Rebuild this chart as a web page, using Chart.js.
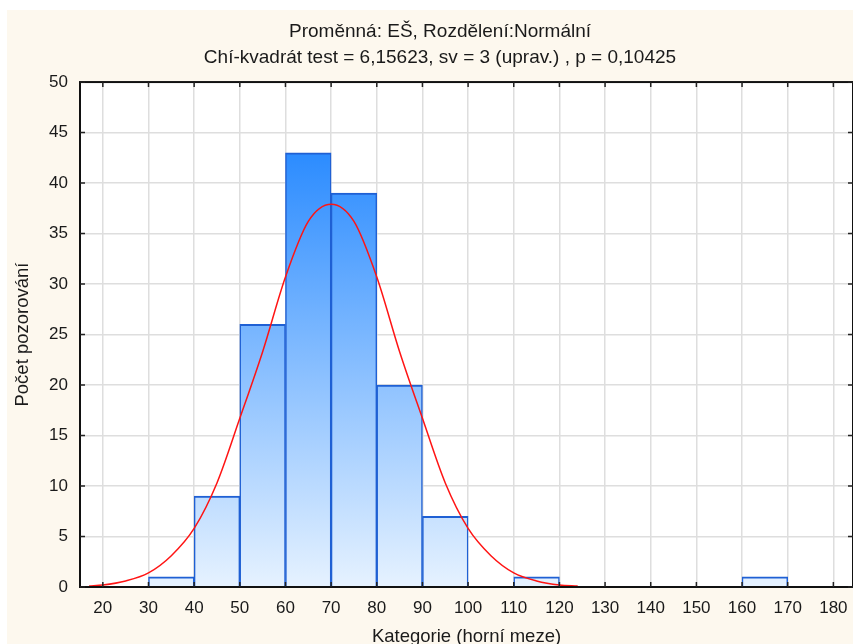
<!DOCTYPE html>
<html>
<head>
<meta charset="utf-8">
<script src="https://cdn.jsdelivr.net/npm/chart.js@4"></script>
<style>
  html, body { margin: 0; padding: 0; background: #fff; overflow: hidden; width: 853px; height: 644px; }
  #histChart { position: absolute; left: 7px; top: 10px; }
</style>
</head>
<body>
<canvas id="histChart" width="866" height="660"></canvas>
<script>
// upper bounds of the classes (also the x tick labels)
const categories = [20, 30, 40, 50, 60, 70, 80, 90, 100, 110, 120, 130, 140, 150, 160, 170, 180];
const counts     = [0, 0, 1, 9, 26, 43, 39, 20, 7, 0, 1, 0, 0, 0, 0, 1, 0];
const binWidth = 10;

// fitted normal curve
const curveX = [17, 20, 25, 30, 35, 40, 45, 50, 55, 60, 65, 70, 75, 80, 85, 90, 95, 100, 105, 110, 115, 120, 124];
const curveY = [0.1, 0.2, 0.6, 1.4, 3.1, 5.8, 10.3, 16.7, 23.3, 30.7, 36.2, 37.9, 36.2, 30.7, 23.3, 16.7, 10.3, 5.8, 3.1, 1.4, 0.6, 0.2, 0.1];

const yTicks = [0, 5, 10, 15, 20, 25, 30, 35, 40, 45, 50];

const FONT = '"Liberation Sans", Arial, sans-serif';
const CREAM = '#fdf8ee';

const barData = [];
categories.forEach((u, i) => {
    if (counts[i] > 0) barData.push({ x: u - binWidth / 2, y: counts[i] });
});
const lineData = curveX.map((x, i) => ({ x: x, y: curveY[i] }));

const framePlugin = {
    id: 'frame',
    beforeDraw(chart) {
        const c = chart.ctx, a = chart.chartArea;
        c.save();
        c.fillStyle = CREAM;
        c.fillRect(0, 0, chart.width, chart.height);
        c.fillStyle = '#ffffff';
        c.fillRect(a.left, a.top, a.right - a.left, a.bottom - a.top);
        c.restore();
    },
    afterDraw(chart) {
        const c = chart.ctx, a = chart.chartArea;
        const xs = chart.scales.x, ys = chart.scales.y;
        c.save();
        c.strokeStyle = '#111';
        c.lineWidth = 2;
        c.strokeRect(a.left, a.top, a.right - a.left, a.bottom - a.top);
        // small inward tick marks
        c.lineWidth = 1.5;
        c.strokeStyle = '#222';
        c.beginPath();
        categories.forEach(v => {
            const px = xs.getPixelForValue(v);
            c.moveTo(px, a.bottom); c.lineTo(px, a.bottom - 5);
            c.moveTo(px, a.top); c.lineTo(px, a.top + 5);
        });
        yTicks.forEach(v => {
            const py = ys.getPixelForValue(v);
            c.moveTo(a.left, py); c.lineTo(a.left + 5, py);
            c.moveTo(a.right, py); c.lineTo(a.right - 5, py);
        });
        c.stroke();
        c.restore();
    }
};

const ctx = document.getElementById('histChart').getContext('2d');

new Chart(ctx, {
    data: {
        datasets: [{
            type: 'line',
            data: lineData,
            borderColor: '#ff1414',
            borderWidth: 1.5,
            pointRadius: 0,
            fill: false,
            cubicInterpolationMode: 'monotone',
            order: 0
        }, {
            type: 'bar',
            data: barData,
            backgroundColor: function(context) {
                const a = context.chart.chartArea;
                if (!a) return '#8cc4ff';
                const g = context.chart.ctx.createLinearGradient(0, a.top, 0, a.bottom);
                g.addColorStop(0, '#0d7bff');
                g.addColorStop(1, '#e6f2ff');
                return g;
            },
            borderColor: '#1f60d4',
            borderWidth: { top: 2, left: 1.5, right: 1.5, bottom: 0 },
            barPercentage: 1,
            categoryPercentage: 1,
            grouped: false,
            order: 1
        }]
    },
    options: {
        responsive: false,
        animation: false,
        layout: { padding: { left: 20, right: 20, top: 0, bottom: 0 } },
        plugins: {
            legend: { display: false },
            tooltip: { enabled: false },
            title: {
                display: true,
                text: ['Proměnná: EŠ, Rozdělení:Normální', 'Chí-kvadrát test = 6,15623, sv = 3 (uprav.) , p = 0,10425'],
                color: '#1a1a1a',
                font: { family: FONT, size: 19, weight: 'normal', lineHeight: 1.37 },
                padding: { top: 9, bottom: 11 }
            }
        },
        scales: {
            x: {
                type: 'linear',
                offset: false,
                min: 15,
                max: 184.3,
                afterBuildTicks: function(scale) {
                    scale.ticks = categories.map(v => ({ value: v }));
                },
                afterFit: function(scale) { scale.height = 83; },
                grid: { color: '#dedede', lineWidth: 1.5, drawTicks: false, offset: false },
                border: { display: false },
                ticks: {
                    color: '#1a1a1a',
                    padding: 11,
                    autoSkip: false,
                    maxRotation: 0,
                    font: { family: FONT, size: 17 }
                },
                title: {
                    display: true,
                    text: 'Kategorie (horní meze)',
                    color: '#1a1a1a',
                    font: { family: FONT, size: 18.5 },
                    padding: { top: 0, bottom: 21.9 }
                }
            },
            y: {
                min: 0,
                max: 50,
                afterBuildTicks: function(scale) {
                    scale.ticks = yTicks.map(v => ({ value: v }));
                },
                afterFit: function(scale) { scale.width = 53; },
                grid: { color: '#dedede', lineWidth: 1.5, drawTicks: false },
                border: { display: false },
                ticks: {
                    color: '#1a1a1a',
                    padding: 12,
                    font: { family: FONT, size: 17 }
                },
                title: {
                    display: true,
                    text: 'Počet pozorování',
                    color: '#1a1a1a',
                    font: { family: FONT, size: 18.5 },
                    padding: { top: -15.1, bottom: 0 }
                }
            }
        }
    },
    plugins: [framePlugin]
});
</script>
</body>
</html>
